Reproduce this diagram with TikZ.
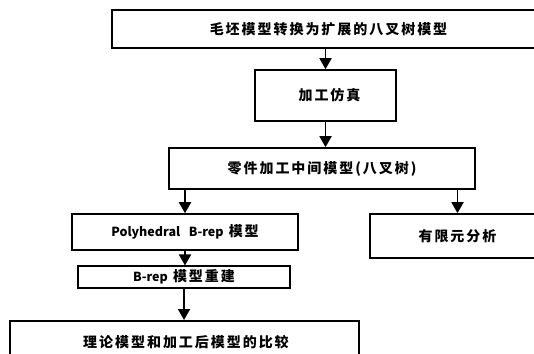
\documentclass[tikz,border=0pt]{standalone}
\usepackage{fontspec}
\newfontfamily\cjk[LetterSpace=14]{Noto Sans CJK SC}
\newfontfamily\lat{Noto Sans CJK SC}
\newcommand{\LT}[1]{{\lat\bfseries\fontsize{12.5pt}{14pt}\selectfont #1}}
\usetikzlibrary{arrows.meta}
\tikzset{
  box/.style={draw=black, line width=1.6pt, inner sep=0pt, font=\cjk\bfseries\fontsize{14pt}{16pt}\selectfont},
  arr/.style={line width=1.8pt, -{Triangle[width=12pt,length=11pt]}}
}
\begin{document}
\begin{tikzpicture}[x=1pt,y=-1pt]
\useasboundingbox (0,0) rectangle (534,353);
\node[box, minimum width=433pt, minimum height=38pt] (b1) at (328.5,29) {毛坯模型转换为扩展的八叉树模型};
\node[box, minimum width=141pt, minimum height=51pt] (b2) at (325.5,95.5) {\hspace*{8pt}加工仿真};
\node[box, minimum width=306pt, minimum height=41pt] (b3) at (322,168.5) {零件加工中间模型(八叉树)};
\node[box, minimum width=226pt, minimum height=36pt] (b4) at (185,232) {\LT{Polyhedral\ \ \ B-rep} 模型};
\node[box, minimum width=212pt, minimum height=21.5pt] (b5) at (184,277) {\LT{B-rep} 模型重建};
\node[box, minimum width=349pt, minimum height=50pt, anchor=north] (b6) at (184.5,320) {};
\node[font=\cjk\bfseries\fontsize{14pt}{16pt}\selectfont] (t6) at (186,342) {理论模型和加工后模型的比较};
\node[box, minimum width=175pt, minimum height=44pt] (b7) at (457.5,236) {有限元分析};
\draw[arr] (b2.north |- b1.south) -- (b2.north);
\draw[arr] (b2.south) -- (b2.south |- b3.north);
\draw[arr] (b4.north |- b3.south) -- (b4.north);
\draw[arr] (b7.north |- b3.south) -- (b7.north);
\draw[arr] (b4.south) -- (b4.south |- b5.north);
\draw[arr] (b5.south) -- (b5.south |- b6.north);
\end{tikzpicture}
\end{document}
